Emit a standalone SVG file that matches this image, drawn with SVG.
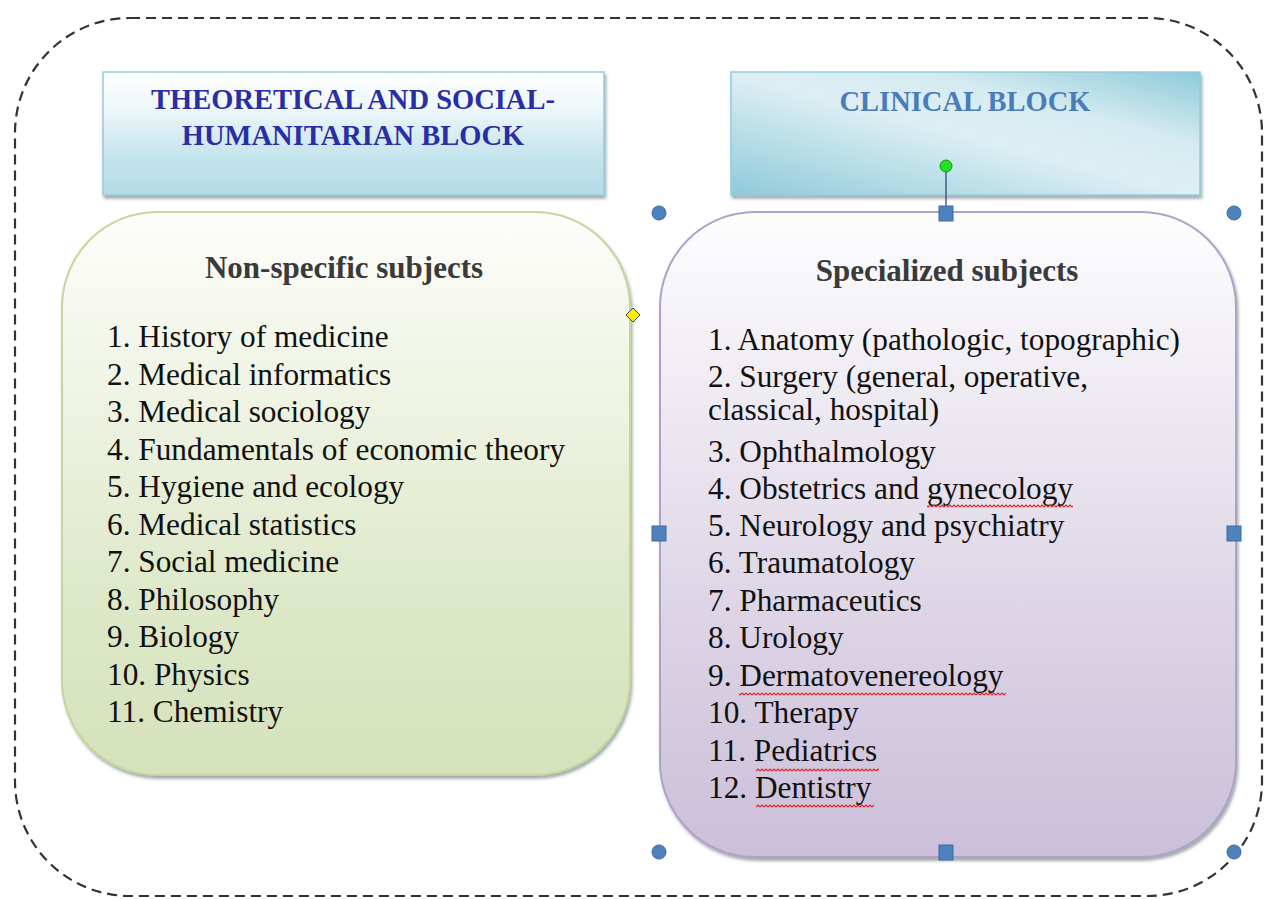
<svg xmlns="http://www.w3.org/2000/svg" width="1267" height="899" viewBox="0 0 1267 899">
  <style>
    .hdr { font-family: "Liberation Serif", "Times New Roman", serif; font-weight: bold; font-size: 28.5px; text-anchor: middle; }
    .ttl { font-family: "Liberation Serif", "Times New Roman", serif; font-weight: bold; font-size: 31px; fill: #3a3a3a; text-anchor: middle; }
    .item { font-family: "Liberation Serif", "Times New Roman", serif; font-size: 31.3px; fill: #111; }
    .handle { fill: #4f81bd; stroke: #3a6aa6; stroke-width: 1; }
  </style>
  <defs>
    <linearGradient id="hdrLeft" x1="0" y1="0" x2="0" y2="1">
      <stop offset="0" stop-color="#ffffff"/>
      <stop offset="0.3" stop-color="#eef7fa"/>
      <stop offset="0.7" stop-color="#c4e3ec"/>
      <stop offset="1" stop-color="#b5dbe6"/>
    </linearGradient>
    <linearGradient id="hdrRight" x1="0" y1="1" x2="1" y2="0">
      <stop offset="0" stop-color="#8ecad9"/>
      <stop offset="0.25" stop-color="#b7dde7"/>
      <stop offset="0.5" stop-color="#deeff4"/>
      <stop offset="0.7" stop-color="#d5ebf1"/>
      <stop offset="1" stop-color="#8ecad9"/>
    </linearGradient>
    <linearGradient id="greenFill" x1="0" y1="0" x2="0" y2="1">
      <stop offset="0" stop-color="#fdfdfb"/>
      <stop offset="0.25" stop-color="#f2f6e9"/>
      <stop offset="0.7" stop-color="#dde8c8"/>
      <stop offset="1" stop-color="#d5e2bb"/>
    </linearGradient>
    <linearGradient id="purpleFill" x1="0" y1="0" x2="0" y2="1">
      <stop offset="0" stop-color="#fdfdfe"/>
      <stop offset="0.25" stop-color="#f0edf4"/>
      <stop offset="0.7" stop-color="#d9d0e3"/>
      <stop offset="1" stop-color="#cbbfda"/>
    </linearGradient>
    <!-- spell-check wave used under flagged words -->
    <pattern id="wave" patternUnits="userSpaceOnUse" x="0" y="0" width="4" height="4">
      <path d="M0 3 L2 1 L4 3" fill="none" stroke="#e02020" stroke-width="1.1"/>
    </pattern>
    <filter id="shadow" x="-5%" y="-5%" width="110%" height="112%">
      <feDropShadow dx="1.5" dy="3" stdDeviation="1.5" flood-color="#5a6a70" flood-opacity="0.55"/>
    </filter>
  </defs>

  <rect width="1267" height="899" fill="#ffffff"/>

  <!-- dashed outer frame -->
  <rect id="frame" x="15" y="18" width="1247" height="878" rx="115" ry="115" fill="none" stroke="#333" stroke-width="2.2" stroke-dasharray="10 6"/>

  <!-- theoretical block header -->
  <g id="header-theoretical">
    <rect x="103" y="72" width="501" height="123" fill="url(#hdrLeft)" stroke="#93cddd" stroke-width="1.5" filter="url(#shadow)"/>
    <text class="hdr" x="353" y="109" fill="#2a2ea6">THEORETICAL AND SOCIAL-</text>
    <text class="hdr" x="353" y="145" fill="#2a2ea6">HUMANITARIAN BLOCK</text>
  </g>

  <!-- clinical block header -->
  <g id="header-clinical">
    <rect x="731" y="72" width="469" height="123" fill="url(#hdrRight)" stroke="#93cddd" stroke-width="1.5" filter="url(#shadow)"/>
    <text class="hdr" x="965" y="111" fill="#4a7cba">CLINICAL BLOCK</text>
  </g>

  <!-- non-specific subjects -->
  <g id="box-nonspecific">
    <rect x="62" y="212" width="568" height="563" rx="95" ry="95" fill="url(#greenFill)" stroke="#c3d69b" stroke-width="2" filter="url(#shadow)"/>
    <text class="ttl" x="344" y="278">Non-specific subjects</text>
    <text class="item" x="107" y="347">1. History of medicine</text>
    <text class="item" x="107" y="385">2. Medical informatics</text>
    <text class="item" x="107" y="422">3. Medical sociology</text>
    <text class="item" x="107" y="460">4. Fundamentals of economic theory</text>
    <text class="item" x="107" y="497">5. Hygiene and ecology</text>
    <text class="item" x="107" y="535">6. Medical statistics</text>
    <text class="item" x="107" y="572">7. Social medicine</text>
    <text class="item" x="107" y="610">8. Philosophy</text>
    <text class="item" x="107" y="647">9. Biology</text>
    <text class="item" x="107" y="685">10. Physics</text>
    <text class="item" x="107" y="722">11. Chemistry</text>
  </g>

  <!-- specialized subjects -->
  <g id="box-specialized">
    <rect x="660" y="212" width="576" height="645" rx="95" ry="95" fill="url(#purpleFill)" stroke="#b2a1c7" stroke-width="2" filter="url(#shadow)"/>
    <text class="ttl" x="947" y="281">Specialized subjects</text>
    <text class="item" x="708" y="350">1. Anatomy (pathologic, topographic)</text>
    <text class="item" x="708" y="387">2. Surgery (general, operative,</text>
    <text class="item" x="708" y="420">classical, hospital)</text>
    <text class="item" x="708" y="462">3. Ophthalmology</text>
    <text class="item" x="708" y="499">4. Obstetrics and gynecology</text>
    <text class="item" x="708" y="536">5. Neurology and psychiatry</text>
    <text class="item" x="708" y="573">6. Traumatology</text>
    <text class="item" x="708" y="611">7. Pharmaceutics</text>
    <text class="item" x="708" y="648">8. Urology</text>
    <text class="item" x="708" y="686">9. Dermatovenereology</text>
    <text class="item" x="708" y="723">10. Therapy</text>
    <text class="item" x="708" y="761">11. Pediatrics</text>
    <text class="item" x="708" y="798">12. Dentistry</text>
    <!-- wavy underlines -->
    <rect x="927" y="504" width="146" height="4" fill="url(#wave)"/>
    <rect x="739" y="692" width="267" height="4" fill="url(#wave)"/>
    <rect x="756" y="768" width="123" height="4" fill="url(#wave)"/>
    <rect x="756" y="804" width="118" height="4" fill="url(#wave)"/>
  </g>

  <!-- selection handles around the specialized box -->
  <g id="selection">
    <line x1="946" y1="166" x2="946" y2="207" stroke="#1f3f7a" stroke-width="1.2"/>
    <circle cx="946" cy="166" r="6" fill="#22e022" stroke="#119911" stroke-width="1"/>
    <path d="M633 308 L640 315 L633 322 L626 315 Z" fill="#ffee00" stroke="#444" stroke-width="1"/>
    <circle class="handle" cx="659" cy="213" r="7"/>
    <circle class="handle" cx="1234" cy="213" r="7"/>
    <circle class="handle" cx="659" cy="852" r="7"/>
    <circle class="handle" cx="1234" cy="852" r="7"/>
    <rect class="handle" x="939" y="206" width="14" height="15"/>
    <rect class="handle" x="652" y="526" width="14" height="15"/>
    <rect class="handle" x="1227" y="526" width="14" height="15"/>
    <rect class="handle" x="939" y="845" width="14" height="15"/>
  </g>
</svg>
